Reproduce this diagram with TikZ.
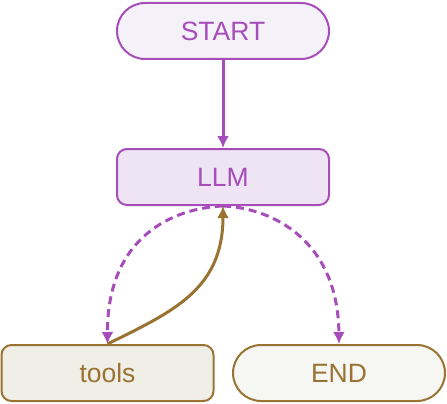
\documentclass[tikz,border=0pt]{standalone}
\usepackage{fontspec}
\setmainfont{Liberation Sans}
\usetikzlibrary{arrows.meta}
\definecolor{lgpurple}{HTML}{A64DBA}
\definecolor{lgbrown}{HTML}{9A7332}
\definecolor{startfill}{HTML}{F4F2F8}
\definecolor{llmfill}{HTML}{EFE4F4}
\definecolor{toolfill}{HTML}{F0EFE7}
\definecolor{endfill}{HTML}{F6F6F3}
\begin{document}
\begin{tikzpicture}[x=1pt,y=-1pt,
  box/.style={minimum width=212pt,minimum height=56pt,inner sep=0pt,line width=2pt,
    font=\fontsize{26.5}{31}\selectfont},
  pill/.style={box,rounded corners=28pt},
  roundbox/.style={box,rounded corners=10pt},
  purpleedge/.style={line width=3pt,draw=lgpurple,-{Latex[length=12pt,width=12pt]}},
  dashedge/.style={purpleedge,dash pattern=on 8pt off 5pt},
  brownedge/.style={line width=3pt,draw=lgbrown,-{Latex[length=12pt,width=12pt]}}]
\useasboundingbox (0,0) rectangle (447,404);

%nodes
\node[pill,draw=lgpurple,fill=startfill,text=lgpurple] (start) at (223,31) {START};
\node[roundbox,draw=lgpurple,fill=llmfill,text=lgpurple] (llm) at (223,177) {LLM};
\node[roundbox,draw=lgbrown,fill=toolfill,text=lgbrown] (tools) at (107.5,373) {tools};
\node[pill,draw=lgbrown,fill=endfill,text=lgbrown] (finish) at (339,373) {END};

%edges
\draw[purpleedge] (start) -- (llm);
\draw[dashedge] (llm.south) .. controls (174,208) and (107,236) .. (tools.north);
\draw[dashedge] (llm.south) .. controls (272,208) and (338,240) .. (finish.north);
\draw[brownedge] (tools.north) .. controls (172,312) and (223,290) .. (llm.south);
\end{tikzpicture}
\end{document}
